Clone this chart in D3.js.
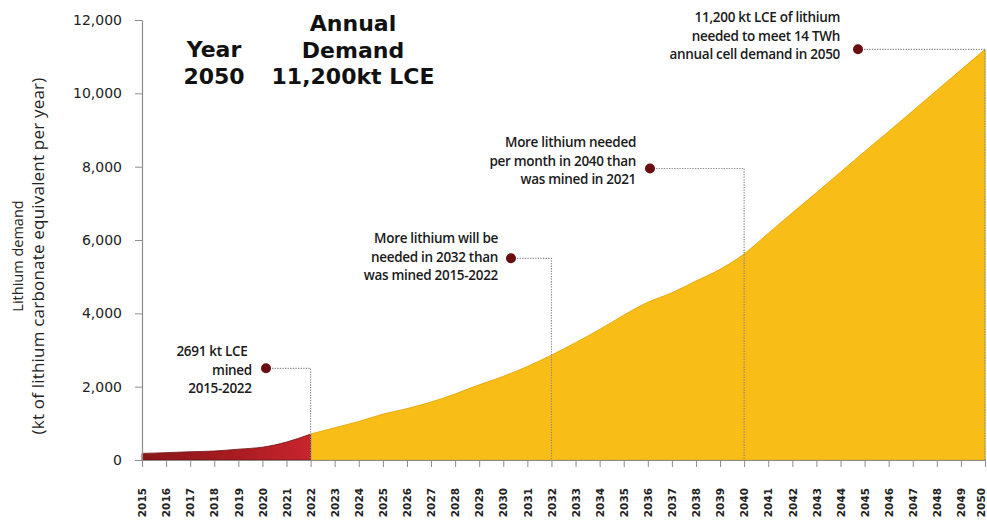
<!DOCTYPE html>
<html>
<head>
<meta charset="utf-8">
<script src="https://cdn.jsdelivr.net/npm/d3@7"></script>
<style>
  html, body { margin: 0; padding: 0; background: #ffffff; }
  svg { display: block; }
</style>
</head>
<body>
<svg id="chart" width="987" height="527"></svg>
<script>
// Historic lithium mined (kt LCE per year)
const minedYears = [2015, 2016, 2017, 2018, 2019, 2020, 2021, 2022];
const minedValues = [180, 200, 225, 245, 295, 350, 490, 706];

// Projected annual lithium demand (kt LCE per year)
const demandYears = [2022, 2023, 2024, 2025, 2026, 2027, 2028, 2029, 2030, 2031, 2032,
  2033, 2034, 2035, 2036, 2037, 2038, 2039, 2040, 2041, 2042, 2043, 2044, 2045,
  2046, 2047, 2048, 2049, 2050];
const demandValues = [706, 880, 1050, 1250, 1400, 1580, 1800, 2050, 2280, 2550, 2860,
  3200, 3560, 3950, 4300, 4560, 4880, 5200, 5620, 6180, 6740, 7290, 7850, 8410,
  8960, 9520, 10080, 10640, 11200];

const yTicks = [0, 2000, 4000, 6000, 8000, 10000, 12000];
const xTicks = d3.range(2015, 2051);

// Callouts: the year they point at and the height of their marker
const calloutYears = [2022, 2032, 2040, 2050];
const calloutLevels = [2500, 5500, 7950, 11200];
const calloutTexts = [
  ["2691 kt LCE", "mined", "2015-2022"],
  ["More lithium will be", "needed in 2032 than", "was mined 2015-2022"],
  ["More lithium needed", "per month in 2040 than", "was mined in 2021"],
  ["11,200 kt LCE of lithium", "needed to meet 14 TWh", "annual cell demand in 2050"]
];
const titleYear = ["Year", "2050"];
const titleDemand = ["Annual", "Demand", "11,200kt LCE"];
const yTitle = ["Lithium demand", "(kt of lithium carbonate equivalent per year)"];

const svg = d3.select("#chart");
const x = d3.scaleLinear().domain([2015, 2050]).range([142, 985]);
const y = d3.scaleLinear().domain([0, 12000]).range([460, 20]);

const defs = svg.append("defs");
const grad = defs.append("linearGradient").attr("id", "minedFill")
  .attr("x1", "0%").attr("x2", "100%").attr("y1", "0%").attr("y2", "0%");
grad.append("stop").attr("offset", "0%").attr("stop-color", "#8a1619");
grad.append("stop").attr("offset", "55%").attr("stop-color", "#a81c22");
grad.append("stop").attr("offset", "100%").attr("stop-color", "#c8252c");

const area = d3.area()
  .x(d => x(d[0]))
  .y0(y(0))
  .y1(d => y(d[1]))
  .curve(d3.curveMonotoneX);

const minedData = minedYears.map((yr, i) => [yr, minedValues[i]]);
const demandData = demandYears.map((yr, i) => [yr, demandValues[i]]);

// Projected demand area
svg.append("path")
  .datum(demandData)
  .attr("d", area)
  .attr("fill", "#f8bd16")
  .attr("stroke", "#e9aa0c")
  .attr("stroke-width", 1);

// Historic mined area
svg.append("path")
  .datum(minedData)
  .attr("d", area)
  .attr("fill", "url(#minedFill)")
  .attr("stroke", "#6e0f12")
  .attr("stroke-width", 0.8);

// Y axis
const yAxis = svg.append("g")
  .attr("transform", `translate(${x(2015)},0)`)
  .call(d3.axisLeft(y).tickValues(yTicks).tickSize(7).tickSizeOuter(0).tickPadding(13)
    .tickFormat(d3.format(",")));
yAxis.select(".domain").attr("stroke", "#8c8c8c").attr("stroke-width", 1.2);
yAxis.selectAll(".tick line").attr("stroke", "#8c8c8c");
yAxis.selectAll(".tick text")
  .attr("font-family", "DejaVu Sans, sans-serif")
  .attr("font-size", 14)
  .attr("fill", "#222");

// X axis
const xAxis = svg.append("g")
  .attr("transform", `translate(0,${y(0)})`)
  .call(d3.axisBottom(x).tickValues(xTicks).tickSize(7).tickSizeOuter(0)
    .tickFormat(d3.format("d")));
xAxis.select(".domain").attr("stroke", "#8c8c8c");
xAxis.selectAll(".tick line").attr("stroke", "#8c8c8c");
xAxis.selectAll(".tick text")
  .attr("font-family", "DejaVu Sans, sans-serif")
  .attr("font-weight", "bold")
  .attr("font-size", 10.5)
  .attr("fill", "#222")
  .attr("text-anchor", "end")
  .attr("transform", "rotate(-90)")
  .attr("x", -28)
  .attr("y", 0)
  .attr("dy", d => d === 2050 ? "-0.05em" : "0.35em");

// Y axis title
const yt = svg.append("text")
  .attr("transform", "translate(0,256) rotate(-90)")
  .attr("text-anchor", "middle")
  .attr("font-family", "Open Sans, sans-serif")
  .attr("fill", "#222");
yt.selectAll("tspan").data(yTitle).join("tspan")
  .attr("x", 0)
  .attr("y", (d, i) => [23, 44][i])
  .attr("font-size", (d, i) => [14.5, 17][i])
  .attr("letter-spacing", (d, i) => [0, 0.2][i])
  .text(d => d);

// Headline
const headStyle = sel => sel
  .attr("font-family", "DejaVu Sans, sans-serif")
  .attr("font-weight", "bold")
  .attr("font-size", 22)
  .attr("fill", "#111")
  .attr("text-anchor", "middle");
svg.append("text").call(headStyle)
  .selectAll("tspan").data(titleYear).join("tspan")
  .attr("x", 214).attr("y", (d, i) => 57 + i * 27).text(d => d);
svg.append("text").call(headStyle)
  .selectAll("tspan").data(titleDemand).join("tspan")
  .attr("x", 353).attr("y", (d, i) => 31 + i * 26.5).text(d => d);

// Callouts: dotted leader from marker to the year, then down to the baseline
const markerX = [266, 511, 650, 858];
const textRight = [256, 498, 636, 840];
const textTop = [356, 243, 147, 22];

calloutYears.forEach((yr, i) => {
  const my = y(calloutLevels[i]);
  const g = svg.append("g");
  g.append("path")
    .attr("d", `M${markerX[i] + 6},${my}H${x(yr)}V${y(0)}`)
    .attr("fill", "none")
    .attr("stroke", "#8a8a8a")
    .attr("stroke-width", 1.2)
    .attr("stroke-dasharray", "1.3,1.3");
  g.append("circle")
    .attr("cx", markerX[i]).attr("cy", my).attr("r", 5)
    .attr("fill", "#6a0d10");
  const t = g.append("text")
    .attr("font-family", "Open Sans, sans-serif")
    .attr("font-weight", 600)
    .attr("font-size", 13.5)
    .attr("letter-spacing", -0.3)
    .attr("fill", "#1a1a1a")
    .attr("text-anchor", i === 0 ? "middle" : "end");
  t.selectAll("tspan").data(calloutTexts[i]).join("tspan")
    .attr("x", (d, j) => i === 0 ? [212, 232, 220][j] : textRight[i])
    .attr("y", (d, j) => textTop[i] + j * 18.5)
    .text(d => d);
});
</script>
</body>
</html>
